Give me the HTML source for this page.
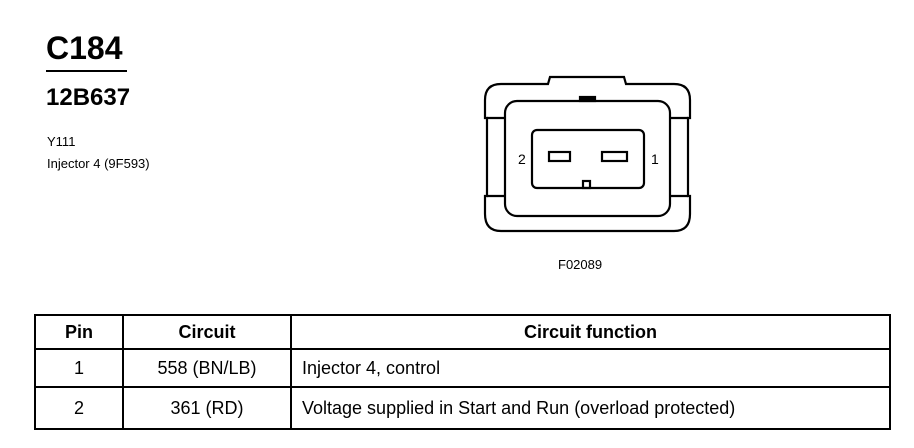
<!DOCTYPE html>
<html><head><meta charset="utf-8"><style>
body{margin:0;width:914px;height:448px;background:#fff;position:relative;font-family:"Liberation Sans",Arial,sans-serif;color:#000;overflow:hidden}
.a{position:absolute;white-space:nowrap}
table{position:absolute;left:34px;top:314px;border-collapse:collapse;font-size:18px}
td{border:2px solid #000;padding:0;text-align:center}
</style></head><body>
<div class="a" style="left:46px;top:30px;font-size:32px;font-weight:bold">C184</div>
<div class="a" style="left:46px;top:70px;width:81px;height:2px;background:#000"></div>
<div class="a" style="left:46px;top:84px;font-size:24px;font-weight:bold">12B637</div>
<div class="a" style="left:47px;top:134px;font-size:13px">Y111</div>
<div class="a" style="left:47px;top:156px;font-size:13px">Injector 4 (9F593)</div>
<svg class="a" style="left:0;top:0" width="914" height="300">
<g fill="none" stroke="#000" stroke-width="2.2">
<path d="M548,84 L550,77 L624,77 L626,84 L674,84 Q690,84 690,100 L690,118 L688,118 L688,196 L690,196 L690,214 Q690,231 674,231 L501,231 Q485,231 485,214 L485,196 L487,196 L487,118 L485,118 L485,100 Q485,84 501,84 Z"/>
<rect x="505" y="101" width="165" height="115" rx="12"/>
<line x1="487" y1="118" x2="505" y2="118"/><line x1="487" y1="196" x2="505" y2="196"/>
<line x1="670" y1="118" x2="688" y2="118"/><line x1="670" y1="196" x2="688" y2="196"/>
<rect x="532" y="130" width="112" height="58" rx="5"/>
<rect x="549" y="152" width="21" height="9"/>
<rect x="602" y="152" width="25" height="9"/>
<rect x="583" y="181" width="7" height="7"/>
<rect x="580" y="97" width="15" height="4" fill="#000"/>
</g>
<text x="518" y="164" font-size="14" font-family="Liberation Sans">2</text>
<text x="651" y="164" font-size="14" font-family="Liberation Sans">1</text>
<text x="558" y="269" font-size="13" font-family="Liberation Sans">F02089</text>
</svg>
<table>
<tr style="height:34px;font-weight:bold"><td style="width:86px">Pin</td><td style="width:166px">Circuit</td><td style="width:597px">Circuit function</td></tr>
<tr style="height:38px"><td>1</td><td>558 (BN/LB)</td><td style="text-align:left;padding-left:10px">Injector 4, control</td></tr>
<tr style="height:42px"><td>2</td><td>361 (RD)</td><td style="text-align:left;padding-left:10px">Voltage supplied in Start and Run (overload protected)</td></tr>
</table>
</body></html>
